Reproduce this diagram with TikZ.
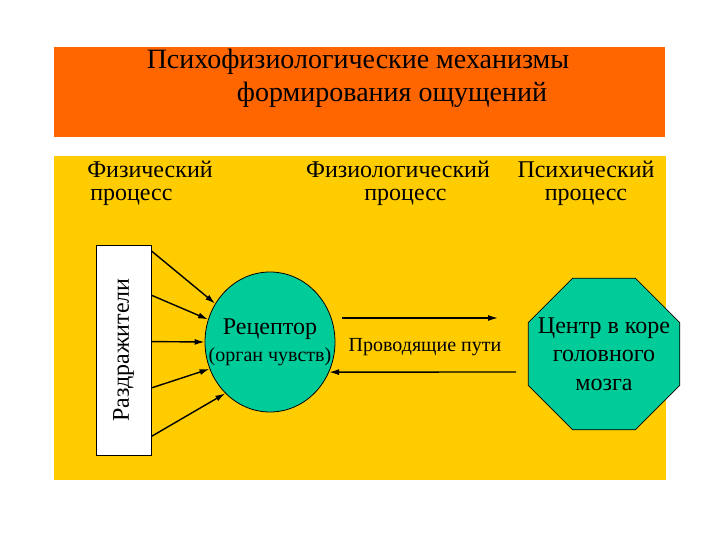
\documentclass[tikz,border=0pt]{standalone}
\usepackage{fontspec}
\setmainfont{Liberation Serif}
\usetikzlibrary{arrows.meta,positioning,calc,shapes.geometric}
\definecolor{cTitle}{HTML}{FF6600}
\definecolor{cPanel}{HTML}{FFCC00}
\definecolor{cOrgan}{HTML}{00CC99}

\begin{document}
\begin{tikzpicture}[
    x=1pt, y=-1pt,
    font=\fontsize{24}{23}\selectfont,
    >={Latex[length=10pt,width=6pt]},
    every node/.style={align=center, inner sep=0pt},
]
\useasboundingbox (0,0) rectangle (720,540);

% ---- background bands ----
\fill[cTitle] (54,47) rectangle (665,137);
\fill[cPanel] (54,156) rectangle (666,480);

% ---- title ----
\node[font=\fontsize{28}{32}\selectfont] (title1) at (358,62) {Психофизиологические механизмы};
\node[font=\fontsize{28}{32}\selectfont] (title2) at (392,95) {формирования ощущений};

% ---- process headings ----
\node[align=left] (phys) at (150,183) {Физический\\\hspace*{3pt}процесс};
\node (physio) at (398,183) {Физиологический\\\hspace*{15pt}процесс};
\node (psych) at (586,183) {Психический\\процесс};

% ---- stimuli ----
\node[draw, line width=0.8pt, fill=white, minimum width=55pt,
      minimum height=210pt] (stim) at (123.5,350) {};
\node[rotate=90] (stimtext) at (stim) {Раздражители};

% ---- receptor ----
\node[draw, ellipse, line width=0.8pt, fill=cOrgan, minimum width=130pt,
      minimum height=140pt] (rec) at (270,342) {};
\node (recname) at (270,329) {Рецептор};
\node[font=\fontsize{20}{22}\selectfont] (recsub) at (270,357) {(орган чувств)};

% ---- cortex centre ----
\node[draw, regular polygon, regular polygon sides=8, line width=0.8pt,
      fill=cOrgan, minimum size=164pt] (ctr) at (604,354) {};
\node[font=\fontsize{24}{28.5}\selectfont] (ctrtext) at (ctr) {Центр в коре\\головного\\мозга};

% ---- arrows: stimuli to receptor ----
\foreach \f/\a in {0.03/145, 0.24/160, 0.46/180, 0.68/204, 0.91/229}{
  \draw[->, line width=1.4pt] ($(stim.north east)!\f!(stim.south east)$) -- (rec.\a);
}

% ---- arrows: pathways ----
\coordinate (fwdA) at (342,318);
\coordinate (fwdB) at (498,318);
\coordinate (backA) at (516,372);
\draw[->, line width=1.4pt] (fwdA) -- (fwdB);
\draw[->, line width=1.4pt] (backA) -- (rec.-27);
\node[font=\fontsize{20}{22}\selectfont] (path) at (425,347) {Проводящие пути};

\end{tikzpicture}
\end{document}
